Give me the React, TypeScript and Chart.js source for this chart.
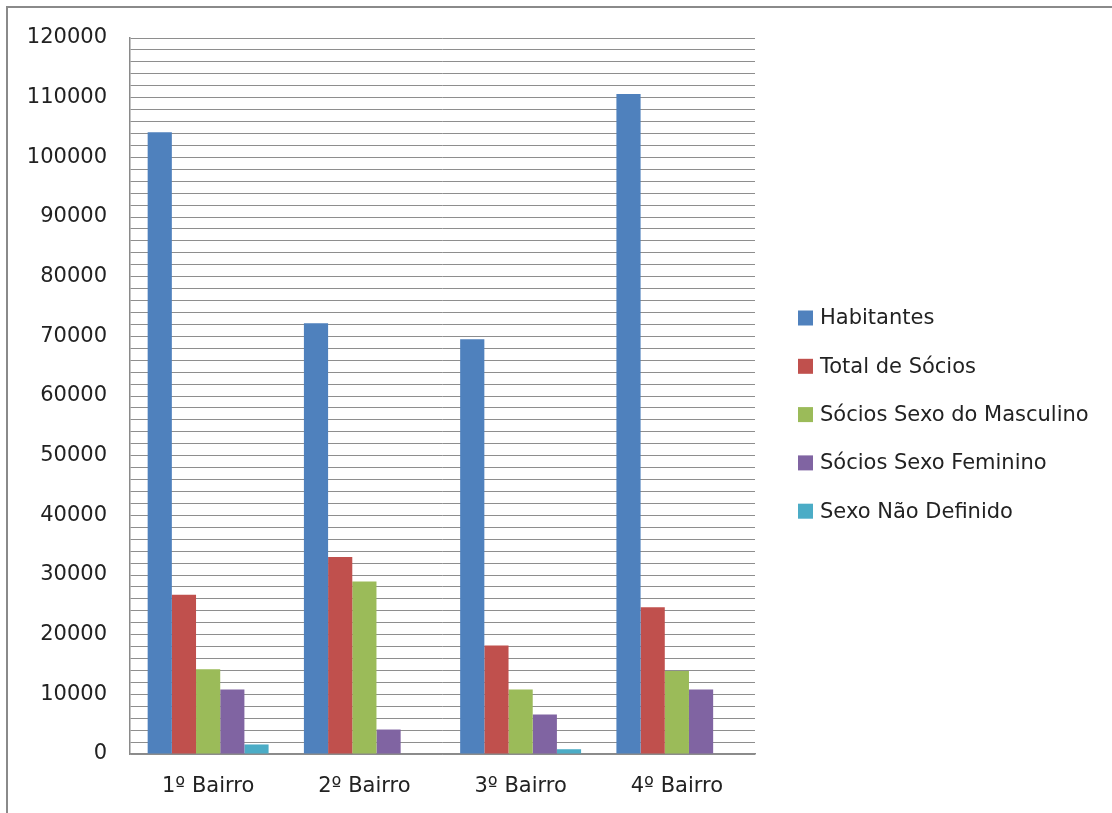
import React, { useEffect, useRef } from "react";
import { Chart, registerables } from "chart.js";

Chart.register(...registerables);

const categories = ["1º Bairro", "2º Bairro", "3º Bairro", "4º Bairro"];
const seriesNames = [
  "Habitantes",
  "Total de Sócios",
  "Sócios Sexo do Masculino",
  "Sócios Sexo Feminino",
  "Sexo Não Definido",
];
const habitantes = [104200, 72200, 69500, 110600];
const totalSocios = [26700, 33000, 18200, 24600];
const sociosMasculino = [14200, 28900, 10800, 13900];
const sociosFeminino = [10800, 4100, 6600, 10800];
const sexoNaoDefinido = [1600, 0, 800, 0];
const seriesColors = ["#4F81BD", "#C0504D", "#9BBB59", "#8064A2", "#4BACC6"];
const yMin = 0;
const yMax = 120000;
const yGridStep = 2000;
const yLabelStep = 10000;

const FONT = "'DejaVu Sans', sans-serif";

const sideLegend = {
  id: "sideLegend",
  afterDraw(chart: any) {
    const ctx = chart.ctx;
    const datasets = chart.data.datasets;
    const boxX = 798;
    const textX = 820;
    const firstY = 318;
    const gap = 48.3;
    const box = 15;
    ctx.save();
    ctx.font = `21px ${FONT}`;
    ctx.textBaseline = "middle";
    ctx.textAlign = "left";
    datasets.forEach((ds: any, i: number) => {
      const cy = firstY + i * gap;
      ctx.fillStyle = ds.backgroundColor;
      ctx.fillRect(boxX, cy - box / 2, box, box);
      ctx.fillStyle = "#222";
      ctx.fillText(ds.label, textX, cy + 1);
    });
    ctx.restore();
  },
};

export default function App() {
  const canvasRef = useRef<HTMLCanvasElement | null>(null);

  useEffect(() => {
    if (!canvasRef.current) return;
    const seriesValues = [habitantes, totalSocios, sociosMasculino, sociosFeminino, sexoNaoDefinido];
    const chart = new Chart(canvasRef.current, {
      type: "bar",
      data: {
        labels: categories,
        datasets: seriesNames.map((name, i) => ({
          label: name,
          data: seriesValues[i],
          backgroundColor: seriesColors[i],
          borderWidth: 0,
          categoryPercentage: 0.774,
          barPercentage: 1,
        })),
      },
      options: {
        animation: false,
        responsive: false,
        maintainAspectRatio: false,
        layout: {
          padding: { left: 0, top: 38, right: 357, bottom: 0 },
        },
        plugins: {
          legend: { display: false },
          tooltip: { enabled: false },
        },
        scales: {
          x: {
            afterFit: (scale: any) => {
              scale.height = 59;
            },
            grid: { display: false, drawTicks: false },
            border: { display: true, color: "#8a8a8a", width: 1.5 },
            ticks: {
              color: "#222",
              font: { family: FONT, size: 21 },
              padding: 20,
            },
          },
          y: {
            min: yMin,
            max: yMax,
            afterFit: (scale: any) => {
              scale.width = 130;
            },
            grid: { color: "#8e8e8e", lineWidth: 1, drawTicks: false },
            border: { display: true, color: "#8a8a8a", width: 1.5 },
            ticks: {
              stepSize: yGridStep,
              autoSkip: false,
              color: "#222",
              font: { family: FONT, size: 21 },
              padding: 23,
              callback: (v: any) => (Number(v) % yLabelStep === 0 ? String(v) : ""),
            },
          },
        },
      },
      plugins: [sideLegend],
    });
    return () => chart.destroy();
  }, []);

  return (
    <>
      <div
        style={{
          position: "fixed",
          left: 6,
          top: 6,
          width: 1200,
          height: 900,
          border: "2px solid #8a8a8a",
          boxSizing: "border-box",
          background: "#fff",
        }}
      />
      <div style={{ position: "fixed", left: 0, top: 0, width: 1112, height: 813 }}>
        <canvas ref={canvasRef} width={1112} height={813} style={{ width: 1112, height: 813, display: "block" }} />
      </div>
    </>
  );
}
